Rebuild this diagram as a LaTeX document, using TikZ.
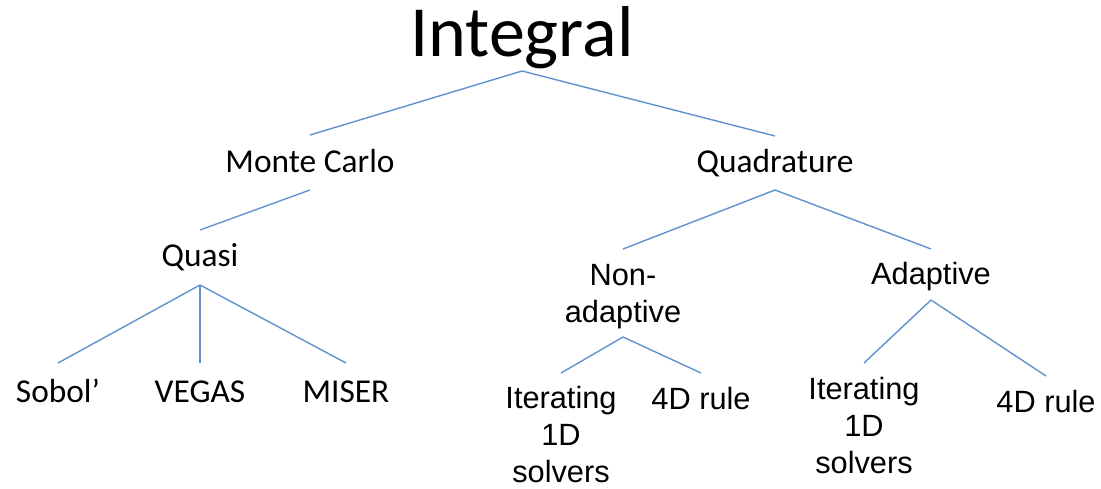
\documentclass[tikz,border=0pt]{standalone}
\usepackage{fontspec}
\setmainfont{Carlito}
\newfontfamily\arialfont{Liberation Sans}
\usepackage{xcolor}
\usetikzlibrary{calc}
\definecolor{LinkBlue}{RGB}{96,146,208}

\begin{document}
\begin{tikzpicture}[x=0.02cm, y=-0.02cm,
		link/.style={LinkBlue, line width=0.8pt},
		cal/.style={anchor=base, inner sep=0pt, font=\fontsize{19}{23}\selectfont},
		ari/.style={anchor=base, inner sep=0pt, align=center, font=\arialfont\fontsize{17.5}{21}\selectfont}]
			\useasboundingbox (0,0) rectangle (1101,489);
			% base of a multi-line node is its last line
			\node[anchor=base, inner sep=0pt, font=\fontsize{41}{49}\selectfont] (Int) at (522,57) {Integral};
			\node[cal] (MC) at (310,173) {Monte Carlo};
			\node[cal] (Quad) at (775,173) {Quadrature};
			\node[cal] (Quasi) at (200,267) {Quasi};
			\node[cal] (Sobol) at (58,402) {Sobol’};
			\node[cal] (Vegas) at (200,402) {VEGAS};
			\node[cal] (Miser) at (346,402) {MISER};
			\node[ari] (NonAd) at (623,322) {Non-\\adaptive};
			\node[ari] (Adapt) at (931,285) {Adaptive};
			\node[ari] (IterL) at (561,482) {Iterating\\1D\\solvers};
			\node[ari] (RuleL) at (701,409) {4D rule};
			\node[ari] (IterR) at (864,473) {Iterating\\1D\\solvers};
			\node[ari] (RuleR) at (1046,412) {4D rule};
			\draw[link] ($(Int.base)+(0,14)$) -- ($(MC.base)+(0,-38)$);
			\draw[link] ($(Int.base)+(0,14)$) -- ($(Quad.base)+(0,-37)$);
			\draw[link] ($(MC.base)+(0,17)$) -- ($(Quasi.base)+(0,-37)$);
			\draw[link] ($(Quad.base)+(0,17)$) -- ($(NonAd.base)+(0,-73)$);
			\draw[link] ($(Quad.base)+(0,17)$) -- ($(Adapt.base)+(0,-36)$);
			\draw[link] ($(Quasi.base)+(0,18)$) -- ($(Sobol.base)+(0,-39)$);
			\draw[link] ($(Quasi.base)+(0,18)$) -- ($(Vegas.base)+(0,-39)$);
			\draw[link] ($(Quasi.base)+(0,18)$) -- ($(Miser.base)+(0,-39)$);
			\draw[link] ($(NonAd.base)+(0,15)$) -- ($(IterL.base)+(0,-109)$);
			\draw[link] ($(NonAd.base)+(0,15)$) -- ($(RuleL.base)+(0,-36)$);
			\draw[link] ($(Adapt.base)+(0,15)$) -- ($(IterR.base)+(0,-110)$);
			\draw[link] ($(Adapt.base)+(0,15)$) -- ($(RuleR.base)+(0,-36)$);
		\end{tikzpicture}
\end{document}
